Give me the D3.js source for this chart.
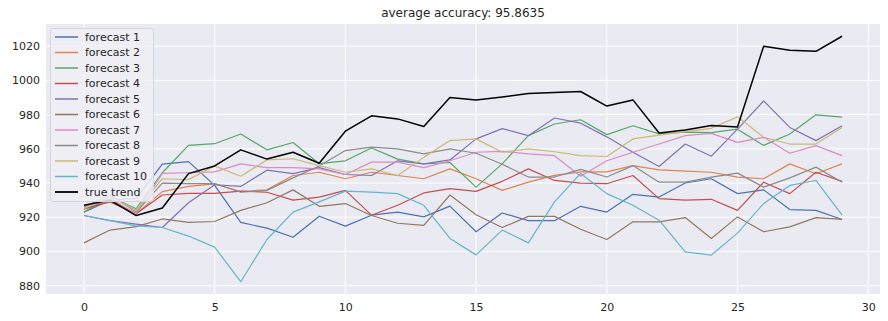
<!DOCTYPE html>
<html><head><meta charset="utf-8">
<script src="https://cdn.jsdelivr.net/npm/d3@7"></script>
<style>body{margin:0;background:#fff;} svg{display:block;font-family:"DejaVu Sans",sans-serif;}</style>
</head><body><svg id="c" width="888" height="321"></svg>
<script>
const title = "average accuracy: 95.8635";
const steps = d3.range(0, 30);
const seriesNames = ["forecast 1","forecast 2","forecast 3","forecast 4","forecast 5","forecast 6","forecast 7","forecast 8","forecast 9","forecast 10","true trend"];
const colors = ["#4C72B0","#DD8452","#55A868","#C44E52","#8172B3","#937860","#DA8BC3","#8C8C8C","#CCB974","#64B5CD","#000000"];
const f1 = [923,930,931,951,952.5,938.6,917,913.6,908.3,920.6,914.8,921.2,923,920.2,926.5,911.5,922.5,918,918,926.4,923,933.4,931.8,940,942.5,933.8,936,924.5,924,918.7];
const f2 = [924.5,930,922,935,938,939.5,935,936,944.4,946.3,942.5,946.3,944.4,942.5,948.3,942.5,935.7,940.5,944.5,946.5,946.5,950.2,947.7,947,946.3,943.5,942.5,951.2,945.4,951.2];
const f3 = [923,932,925,946,962,963,968.7,959.4,963.7,951.3,953,960.5,954,951.2,952,937.6,951.2,967.7,974.5,977,968.3,973.5,968.7,969.8,969.5,971.5,962,968.7,979.9,978.5];
const f4 = [925,929,922,933,934,934,935.3,934.6,930,931.8,935.7,921.2,927,934.2,936.7,935.1,941,948.3,941.5,940,939.6,944.4,930.9,930,930.5,924,940.5,933.8,946.3,941];
const f5 = [921,918,916,914,928.5,939,938,947.5,945.5,949,945,944.4,953,951.2,953.5,965.8,971.8,967.7,978,975,967,958,949.7,962.8,955.7,971.5,988,972.5,964.8,973.5];
const f6 = [905,912.5,914.5,919,917,917.5,924,928.5,936,926.4,928,921,916.5,915.3,933,921.5,914,920.5,920.5,913,907,917.3,917.3,919.8,907.6,920.2,911.5,914.4,919.8,918.7];
const f7 = [926,931,922,945.6,946,946.5,951.2,949,949,948.3,945,952.2,952.2,949,953,958,958.5,957,956,944,953,958,962.8,967.7,969,963.8,966.7,957.4,961.9,956];
const f8 = [926,933,923,940,939.7,939.7,934.6,935.7,943,950,959,961,960,957,960,957.4,951,943.5,943.5,948,943.5,950.2,940.5,940.5,943.5,945.8,937.6,943,949.3,940.5];
const f9 = [925,932,924,942.5,942,950,944,953.5,954.2,950.2,946.3,948.3,944.4,955,964.8,965.8,958,960,958.3,956,955.5,965.8,968,970,972,978.7,966.7,962.8,962.8,972.5];
const f10 = [921,918,915,914,909,902.5,882.3,907,923,929,935.3,934.7,933.8,927,907.6,898,912.5,905,929,945.6,933.8,927,918.3,899.8,897.9,910.7,928,938.6,941.5,921.2];
const trueTrend = [927,930,921,925.4,945.5,950,959.4,954,958,951.6,970.3,979.3,977.5,973,990,988.5,990.3,992.3,992.9,993.5,985,988.6,969.3,971,973.7,972.8,1020,1017.6,1017,1025.8];
const series = [f1,f2,f3,f4,f5,f6,f7,f8,f9,f10,trueTrend];
const xTicks = [0,5,10,15,20,25,30];
const yTicks = [880,900,920,940,960,980,1000,1020];

const svg = d3.select("#c");
const L = 46, R = 880, T = 24, B = 294;
const allV = series.flat();
const ymin = d3.min(allV), ymax = d3.max(allV);
const ypad = (ymax - ymin) * 0.05, xpad = 29 * 0.05;
const x = d3.scaleLinear().domain([0 - xpad, 29 + xpad]).range([L, R]);
const y = d3.scaleLinear().domain([ymin - ypad, ymax + ypad]).range([B, T]);

svg.append("rect").attr("x", L).attr("y", T).attr("width", R - L).attr("height", B - T).attr("fill", "#EAEAF2");
// grid
svg.append("g").selectAll("line").data(xTicks).join("line")
  .attr("x1", d => x(d)).attr("x2", d => x(d)).attr("y1", T).attr("y2", B)
  .attr("stroke", "#fff").attr("stroke-width", 1);
svg.append("g").selectAll("line").data(yTicks).join("line")
  .attr("y1", d => y(d)).attr("y2", d => y(d)).attr("x1", L).attr("x2", R)
  .attr("stroke", "#fff").attr("stroke-width", 1);

// axes
const xAxis = svg.append("g").attr("transform", `translate(0,${B})`)
  .call(d3.axisBottom(x).tickValues(xTicks).tickFormat(d3.format("d")).tickSize(0).tickPadding(9));
const yAxis = svg.append("g").attr("transform", `translate(${L},0)`)
  .call(d3.axisLeft(y).tickValues(yTicks).tickFormat(d3.format("d")).tickSize(0).tickPadding(6));
[xAxis, yAxis].forEach(g => {
  g.select(".domain").remove();
  g.selectAll("text").attr("fill", "#262626").attr("font-size", "11px").attr("font-family", "DejaVu Sans, sans-serif");
});

// lines
const line = d3.line().x((d, i) => x(steps[i])).y(d => y(d));
svg.append("g").selectAll("path").data(series).join("path")
  .attr("d", d => line(d)).attr("fill", "none")
  .attr("stroke", (d, i) => colors[i])
  .attr("stroke-width", (d, i) => i === 10 ? 1.5 : 1.2)
  .attr("stroke-linejoin", "round");

// title
svg.append("text").attr("x", (L + R) / 2).attr("y", 17).attr("text-anchor", "middle")
  .attr("font-size", "12px").attr("fill", "#262626").text(title);

// legend
const lg = svg.append("g");
lg.append("rect").attr("x", 50.5).attr("y", 28.5).attr("width", 103).attr("height", 173).attr("rx", 3)
  .attr("fill", "#EEEEF4").attr("fill-opacity", 0.85).attr("stroke", "#D5D5DD");
const rows = lg.selectAll("g").data(seriesNames).join("g")
  .attr("transform", (d, i) => `translate(0,${37 + i * 15.5})`);
rows.append("line").attr("x1", 55).attr("x2", 78).attr("y1", 0).attr("y2", 0)
  .attr("stroke", (d, i) => colors[i]).attr("stroke-width", (d, i) => i === 10 ? 1.8 : 1.5);
rows.append("text").attr("x", 85).attr("y", 0).attr("dy", "0.35em")
  .attr("font-size", "11px").attr("fill", "#262626").text(d => d);
</script></body></html>
